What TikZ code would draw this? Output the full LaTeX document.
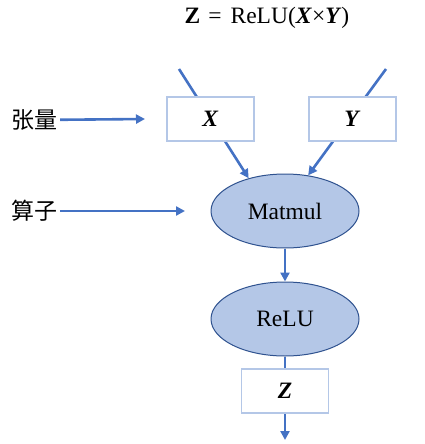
\documentclass[tikz,border=0pt]{standalone}
\usepackage{fontspec}
\setmainfont{Liberation Serif}
\newfontfamily\cjk{Noto Sans CJK SC}
\usetikzlibrary{shapes.geometric,arrows.meta}
\definecolor{lineblue}{HTML}{4472C4}
\definecolor{opfill}{HTML}{B4C7E7}
\definecolor{opline}{HTML}{2F528F}
\definecolor{boxline}{HTML}{B4C7E7}
\begin{document}
\begin{tikzpicture}[x=1pt,y=-1pt,
  font=\fontsize{23.5}{28}\selectfont,
  arr/.style={draw=lineblue, line width=2.6pt, -{Triangle[length=9pt,width=9pt]}},
  tensorbox/.style={rectangle, draw=boxline, line width=1.2pt, fill=white, minimum width=87pt, minimum height=44pt, inner sep=0pt},
  opnode/.style={ellipse, draw=opline, line width=1pt, fill=opfill, minimum width=148pt, minimum height=74pt, inner sep=0pt},
  label/.style={font=\cjk\fontsize{23}{27}\selectfont, inner sep=2pt}]
\useasboundingbox (0,0) rectangle (424,444);
\node (eq) at (267,18){\textbf{Z}\hspace{8pt}=\hspace{9pt}ReLU(\textbf{\textit{X}}×\textbf{\textit{Y}})};
\node[opnode] (matmul) at (285,211){Matmul};
\node[opnode] (relu) at (285,319){ReLU};
\coordinate (inx) at (179,69);
\coordinate (iny) at (386,69);
\coordinate (outz) at (285,440);
\draw[arr](inx) -- (matmul.138);
\draw[arr](iny) -- (matmul.57);
\draw[arr](matmul) -- (relu);
\draw[arr](relu) -- (outz);
\node[tensorbox] (x) at (210.5,119){\textbf{\textit{X}}};
\node[tensorbox] (y) at (352.5,119){\textbf{\textit{Y}}};
\node[tensorbox] (z) at (285,391){\textbf{\textit{Z}}};
\node[label] (tensor) at (35,120){张量};
\node[label] (op) at (35,211){算子};
\coordinate (tensorend) at (145,119);
\coordinate (opend) at (185,211);
\draw[arr](tensor) -- (tensorend);
\draw[arr](op) -- (opend);
\end{tikzpicture}
\end{document}
